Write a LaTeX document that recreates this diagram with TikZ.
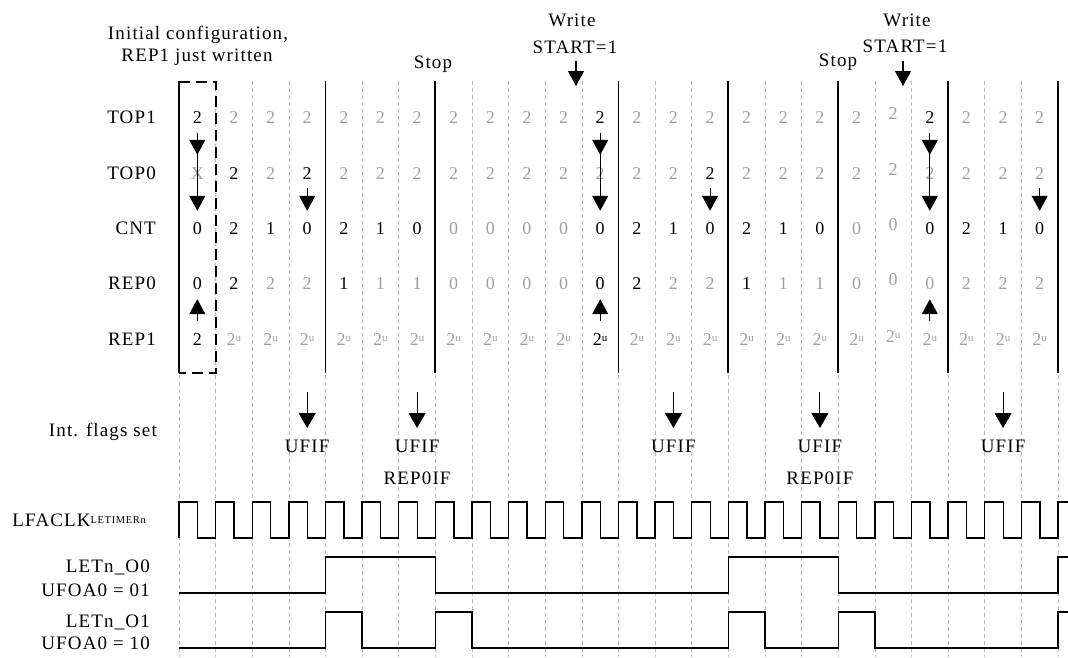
\documentclass[tikz,border=0pt]{standalone}
\usepackage{fontspec}
\setmainfont{Liberation Serif}[LetterSpace=6]
\usetikzlibrary{arrows.meta}
\definecolor{valgray}{RGB}{160,160,160}
\definecolor{gridgray}{RGB}{185,185,185}
\newcommand\colx[1]{179+36.625*#1}
\newcommand\twou{2\raisebox{3.5pt}{\fontsize{11}{11}\selectfont u}}
\begin{document}
\begin{tikzpicture}[x=1pt,y=-1pt,
  lab/.style={inner sep=0pt,text height=12pt,text depth=0pt,font=\fontsize{19}{21}\selectfont},
  rowlab/.style={lab,anchor=east},
  cell/.style={inner sep=0pt,text height=12pt,text depth=0pt,font=\fontsize{18}{20}\selectfont},
  vb/.style={cell,text=black},
  vg/.style={cell,text=valgray},
  gridline/.style={draw=gridgray,line width=0.7pt,dash pattern=on 4pt off 3pt},
  bar/.style={line width=1.8pt},
  boxline/.style={line width=1.8pt,dash pattern=on 11pt off 6pt},
  arr/.style={line width=1.1pt,-{Triangle[width=16pt,length=15pt]}},
  bigarr/.style={line width=1.1pt,-{Triangle[width=17pt,length=15pt]}},
  sig/.style={line width=1.4pt},
]
\useasboundingbox (0,0) rectangle (1068,657);

% grid
\foreach \k in {0,...,24} \draw[gridline] ({\colx{\k}},81) -- ({\colx{\k}},657);
\foreach \k in {0,4,7,12,15,18,21,24} \draw[bar] ({\colx{\k}},81) -- ({\colx{\k}},373);
\draw[boxline] ({\colx{0}},82) -- ({\colx{1}},82) -- ({\colx{1}},373) -- ({\colx{0}},373);

% top texts
\node[lab] (init1) at (198,33) {Initial configuration,};
\node[lab] (init2) at (197,55) {REP1 just written};
\node[lab] (stop1) at (433,62) {Stop};
\node[lab] (stop2) at (838,60) {Stop};
\node[lab] (wr1) at (572,20) {Write};
\node[lab] (st1) at (575,47) {START=1};
\node[lab] (wr2) at (907,20) {Write};
\node[lab] (st2) at (905,46) {START=1};
\coordinate (s1a) at (576,61); \coordinate (s1b) at (576,86);
\coordinate (s2a) at (903,61); \coordinate (s2b) at (903,86);
\draw[arr] (s1a) -- (s1b);
\draw[arr] (s2a) -- (s2b);

% row labels
\node[rowlab] (ltop1) at (156,117) {TOP1};
\node[rowlab] (ltop0) at (156,173) {TOP0};
\node[rowlab] (lcnt) at (156,228) {CNT};
\node[rowlab] (lrep0) at (156,283.5) {REP0};
\node[rowlab] (lrep1) at (156,339) {REP1};
\node[rowlab] (lint) at (157,430) {Int. flags set};
\node[rowlab] (lclk) at (146,520) {LFACLK\raisebox{2.5pt}{\fontsize{10.5}{11}\selectfont LETIMERn}};
\node[rowlab] (lo0a) at (150,566) {LETn\_O0};
\node[rowlab] (lo0b) at (150,590) {UFOA0 = 01};
\node[rowlab] (lo1a) at (150,621) {LETn\_O1};
\node[rowlab] (lo1b) at (150,643) {UFOA0 = 10};

% values (column 19 sits slightly higher in the original)
\foreach[count=\c from 0] \s/\t in {vb/2,vg/2,vg/2,vg/2,vg/2,vg/2,vg/2,vg/2,vg/2,vg/2,vg/2,vb/2,vg/2,vg/2,vg/2,vg/2,vg/2,vg/2,vg/2,vg/2,vb/2,vg/2,vg/2,vg/2}
  \node[\s,yshift={4*(\c==19)}] (top1-\c) at ({\colx{(\c+0.5)}},117) {\t};
\foreach[count=\c from 0] \s/\t in {vg/X,vb/2,vg/2,vb/2,vg/2,vg/2,vg/2,vg/2,vg/2,vg/2,vg/2,vg/2,vg/2,vg/2,vb/2,vg/2,vg/2,vg/2,vg/2,vg/2,vg/2,vg/2,vg/2,vg/2}
  \node[\s,yshift={4*(\c==19)}] (top0-\c) at ({\colx{(\c+0.5)}},173) {\t};
\foreach[count=\c from 0] \s/\t in {vb/0,vb/2,vb/1,vb/0,vb/2,vb/1,vb/0,vg/0,vg/0,vg/0,vg/0,vb/0,vb/2,vb/1,vb/0,vb/2,vb/1,vb/0,vg/0,vg/0,vb/0,vb/2,vb/1,vb/0}
  \node[\s,yshift={4*(\c==19)}] (cnt-\c) at ({\colx{(\c+0.5)}},228) {\t};
\foreach[count=\c from 0] \s/\t in {vb/0,vb/2,vg/2,vg/2,vb/1,vg/1,vg/1,vg/0,vg/0,vg/0,vg/0,vb/0,vb/2,vg/2,vg/2,vb/1,vg/1,vg/1,vg/0,vg/0,vg/0,vg/2,vg/2,vg/2}
  \node[\s,yshift={4*(\c==19)}] (rep0-\c) at ({\colx{(\c+0.5)}},283.5) {\t};
\foreach[count=\c from 0] \s/\t in {vb/2,vg/\twou,vg/\twou,vg/\twou,vg/\twou,vg/\twou,vg/\twou,vg/\twou,vg/\twou,vg/\twou,vg/\twou,vb/\twou,vg/\twou,vg/\twou,vg/\twou,vg/\twou,vg/\twou,vg/\twou,vg/\twou,vg/\twou,vg/\twou,vg/\twou,vg/\twou,vg/\twou}
  \node[\s,yshift={3*(\c==19)}] (rep1-\c) at ({\colx{(\c+0.5)}},339) {\t};

% load arrows
\foreach \c in {0,11,20} {
  \draw[arr,shorten <=10pt,shorten >=11pt] (top1-\c) -- (cnt-\c);
  \draw[arr,shorten <=10pt,shorten >=12pt] (top1-\c) -- (top0-\c);
  \draw[arr,shorten <=12pt,shorten >=9.5pt] (rep1-\c) -- (rep0-\c);
}
\foreach \c in {3,14,23}
  \draw[arr,shorten <=9pt,shorten >=11pt] (top0-\c) -- (cnt-\c);

% interrupt flags
\foreach \c/\n in {3/f1,6/f2,13/f3,17/f4,22/f5} {
  \coordinate (\n a) at ({\colx{(\c+0.5)}},392);
  \coordinate (\n b) at ({\colx{(\c+0.5)}},428);
  \draw[bigarr] (\n a) -- (\n b);
  \node[lab] (\n-uf) at ({\colx{(\c+0.5)}},446) {UFIF};
}
\node[lab] (r1) at ({\colx{6.5}},478) {REP0IF};
\node[lab] (r2) at ({\colx{17.5}},478) {REP0IF};

% clock
\draw[sig] (179,538) -- (179,502)
  \foreach \k in {0,...,23} { -- ({\colx{\k}+18.5},502) -- ({\colx{\k}+18.5},538) -- ({\colx{(\k+1)}},538) -- ({\colx{(\k+1)}},502) }
  -- (1068,502);

% outputs
\draw[sig] (179,593) -- ({\colx{4}},593) -- ({\colx{4}},557) -- ({\colx{7}},557) -- ({\colx{7}},593)
  -- ({\colx{15}},593) -- ({\colx{15}},557) -- ({\colx{18}},557) -- ({\colx{18}},593)
  -- ({\colx{24}},593) -- ({\colx{24}},557) -- (1068,557);
\draw[sig] (179,648) -- ({\colx{4}},648) -- ({\colx{4}},612) -- ({\colx{5}},612) -- ({\colx{5}},648)
  -- ({\colx{7}},648) -- ({\colx{7}},612) -- ({\colx{8}},612) -- ({\colx{8}},648)
  -- ({\colx{15}},648) -- ({\colx{15}},612) -- ({\colx{16}},612) -- ({\colx{16}},648)
  -- ({\colx{18}},648) -- ({\colx{18}},612) -- ({\colx{19}},612) -- ({\colx{19}},648)
  -- ({\colx{24}},648) -- ({\colx{24}},612) -- (1068,612);
\end{tikzpicture}
\end{document}
